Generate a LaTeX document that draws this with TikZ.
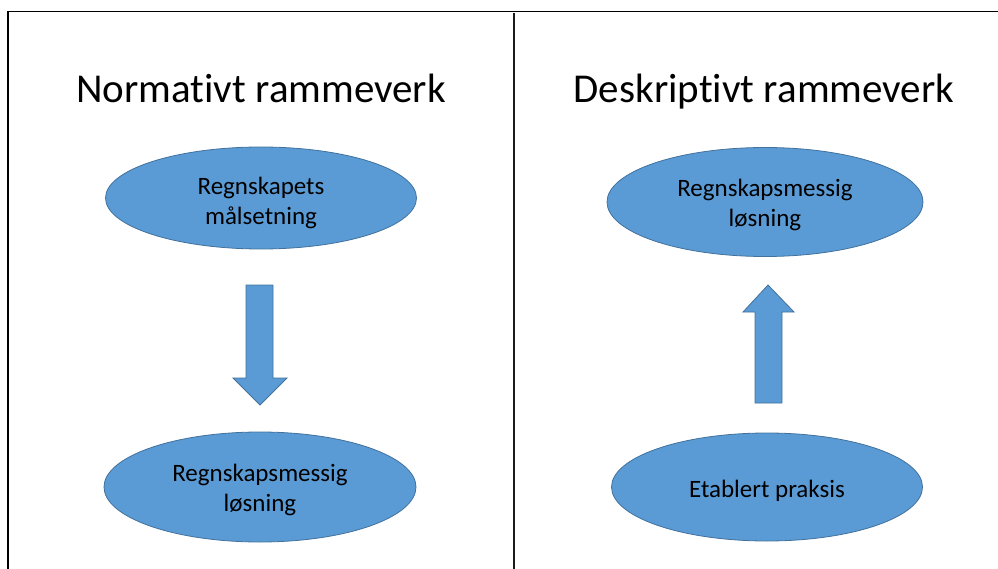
\documentclass[tikz,border=0pt]{standalone}
\usepackage{fontspec}
\setmainfont{Carlito}[Ligatures=NoCommon]
\usetikzlibrary{shapes.geometric}
\definecolor{shapefill}{HTML}{5B9BD5}
\definecolor{shapeline}{HTML}{41719C}
\definecolor{rule}{HTML}{1A1A1A}
\tikzset{
  blob/.style={ellipse, fill=shapefill, draw=shapeline, line width=0.8pt,
    inner sep=0pt},
  blobtext/.style={align=center, text=black, inner sep=0pt,
    font=\fontsize{25}{30}\selectfont},
  heading/.style={font=\fontsize{41}{48}\selectfont, text=black, anchor=base},
  blockarrow/.style={fill=shapefill, draw=shapeline, line width=0.8pt, line join=miter},
  frame/.style={draw=black, line width=1.4pt},
  divider/.style={draw=rule, line width=2.6pt}
}
\begin{document}
\begin{tikzpicture}[x=1pt, y=-1pt]
\useasboundingbox (0,0) rectangle (998,569);
% outer frame: top and left edges only
\draw[frame] (8,569) -- (8,11.5) -- (998,11.5);
% divider between the two frameworks
\draw[divider] (514,13) -- (514,569);

% headings
\node[heading] (tl) at (261,103) {Normativt rammeverk};
\node[heading] (tr) at (764,103) {Deskriptivt rammeverk};

% left column
\node[blob, minimum width=311pt, minimum height=102pt] (goal) at (261,198) {};
\node[blob, minimum width=312pt, minimum height=110pt] (solL) at (260,487) {};
\node[blobtext] (goalT) at ([yshift=-5pt]goal.center) {Regnskapets\\målsetning};
\node[blobtext] (solLT) at ([yshift=-3pt]solL.center) {Regnskapsmessig\\løsning};

% right column
\node[blob, minimum width=316pt, minimum height=109pt] (solR) at (765,202) {};
\node[blob, minimum width=311pt, minimum height=108pt] (prax) at (767,487) {};
\node[blobtext] (solRT) at ([yshift=-3pt]solR.center) {Regnskapsmessig\\løsning};
\node[blobtext] (praxT) at ([yshift=-4pt]prax.center) {Etablert praksis};

% block arrows
\path[blockarrow] (246,285) -- (273,285) -- (273,378) -- (287,378) -- (260,405)
  -- (233,378) -- (246,378) -- cycle;
\path[blockarrow] (755,403) -- (782,403) -- (782,312) -- (794,312) -- (768,285)
  -- (743,312) -- (755,312) -- cycle;
\end{tikzpicture}
\end{document}
